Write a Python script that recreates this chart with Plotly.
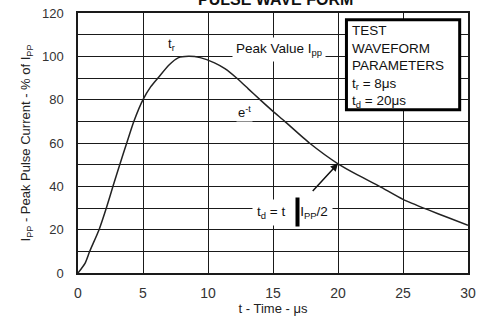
import plotly.graph_objects as go

# Data
time_us = [0, 0.55, 0.9, 1.62, 2.18, 2.69, 3.21, 3.75, 4.3, 5.0, 5.6, 6.15, 7.0, 7.7,
           8.5, 9.4, 10.5, 11.3, 12.2, 13.1, 14.0, 15.0, 15.9, 17.8, 20.0, 21.5,
           23.2, 25.0, 27.0, 28.5, 30.0]
current_pct = [0, 4.6, 10, 20, 30, 40, 50, 60, 70, 80, 86, 90, 96, 99.3,
               100, 99.4, 97, 94.3, 90, 85, 80, 74.6, 70, 60, 50.4, 45.3,
               40, 34, 29, 25.5, 22]
x_ticks = [0, 5, 10, 15, 20, 25, 30]
y_ticks = [0, 20, 40, 60, 80, 100, 120]

FONT = "Liberation Sans, Arial, sans-serif"
GRID = "#1a1a1a"

fig = go.Figure()
fig.add_trace(go.Scatter(x=time_us, y=current_pct, mode="lines",
                         line=dict(color="#222", width=1.5, shape="spline", smoothing=0.6),
                         hoverinfo="skip", showlegend=False))

fig.update_layout(
    width=482, height=319,
    margin=dict(l=78, r=14, t=13, b=46, autoexpand=False),
    paper_bgcolor="white", plot_bgcolor="white",
    font=dict(family=FONT, color="#222"),
    xaxis=dict(range=[0, 30], tickvals=x_ticks, showgrid=True, gridcolor=GRID, gridwidth=1.2,
               showline=True, linecolor=GRID, linewidth=1.5, mirror=True, zeroline=False,
               tickfont=dict(size=14, color="#333"), ticklabelstandoff=6,
               title=dict(text="t - Time - μs", font=dict(size=13, color="#222"), standoff=4)),
    yaxis=dict(range=[0, 120], tickvals=y_ticks, showgrid=True, gridcolor=GRID, gridwidth=1.2,
               minor=dict(dtick=10, showgrid=True, gridcolor=GRID, gridwidth=1.2),
               showline=True, linecolor=GRID, linewidth=1.5, mirror=True, zeroline=False,
               tickfont=dict(size=13, color="#333"), ticklabelstandoff=10,
               title=dict(text="I<sub>PP</sub> - Peak Pulse Current - % of I<sub>PP</sub>",
                          font=dict(size=13, color="#222"), standoff=8)),
)

# Parameters box
fig.add_shape(type="rect", xref="x", yref="y", x0=20.65, x1=29.36, y0=75.4, y1=116.9,
              line=dict(color="black", width=3), fillcolor="white", layer="above")
fig.add_annotation(xref="x", yref="y", x=20.95, y=116.3, xanchor="left", yanchor="top",
                   align="left", showarrow=False,
                   text="TEST<br>WAVEFORM<br>PARAMETERS<br>t<sub>r</sub> = 8μs<br>t<sub>d</sub> = 20μs",
                   font=dict(size=13.5, color="#111"))

# Labels
fig.add_annotation(xref="x", yref="y", x=7.2, y=105.5, showarrow=False,
                   text="t<sub>r</sub>", font=dict(size=13, color="#111"))
fig.add_annotation(xref="x", yref="y", x=15.45, y=103.2, showarrow=False,
                   text="Peak Value I<sub>pp</sub>", font=dict(size=13.5, color="#111"),
                   bgcolor="white", borderpad=3)
fig.add_annotation(xref="x", yref="y", x=12.8, y=74.5, showarrow=False,
                   text="e<sup>-t</sup>", font=dict(size=13, color="#111"), bgcolor="white")
fig.add_annotation(xref="x", yref="y", x=16.5, y=27.7, showarrow=False,
                   text="t<sub>d</sub> = t    I<sub>PP</sub>/2", font=dict(size=13.5, color="#111"),
                   bgcolor="white", borderpad=4)
# heavy bar in the label
fig.add_annotation(xref="x", yref="y", x=16.9, y=28.2, showarrow=False, text=" ",
                   width=3, height=28, bgcolor="black", borderpad=0, font=dict(size=4))
# arrow to the half-value point
fig.add_annotation(xref="x", yref="y", x=20.0, y=50.5, axref="x", ayref="y", ax=17.95, ay=37.2,
                   showarrow=True, arrowhead=2, arrowsize=1, arrowwidth=1.5, arrowcolor="#111",
                   text="")

# Title (cut off at top in the reference)
fig.add_annotation(xref="paper", yref="paper", x=0.507, y=1.052, xanchor="center", yanchor="middle",
                   showarrow=False, text="<b>PULSE WAVE FORM</b>", font=dict(size=16, color="#111"))

fig.write_html("out.html", config={"displayModeBar": False},
               post_script="document.body.style.margin='0';document.body.style.overflow='hidden';")
